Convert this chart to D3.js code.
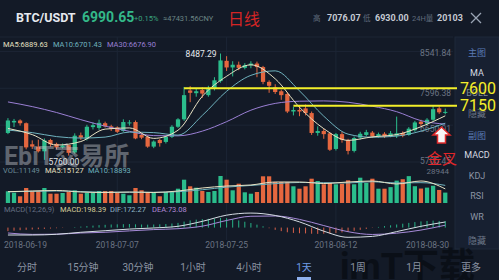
<!DOCTYPE html>
<html>
<head>
<meta charset="utf-8">
<script src="https://cdn.jsdelivr.net/npm/d3@7"></script>
<style>
html, body { margin: 0; padding: 0; background: #131a27; }
svg { display: block; font-family: Roboto, "Noto Sans CJK SC", sans-serif; }
</style>
</head>
<body>
<div id="chart"></div>
<script>
// BTC/USDT daily candles, 2018-06-19 .. 2018-08-30
var opens  = [6450,6720,6770,6700,6160,6100,5980,6270,6170,6080,
              6140,5950,6390,6300,6600,6580,6700,6620,6590,6500,
              6700,6730,6400,6350,6100,6270,6220,6350,6610,6800,
              7540,7470,7550,7420,7580,7780,8300,8130,8200,8120,
              8190,8230,8140,7760,7620,7520,7450,7000,7040,7080,
              6960,6450,6500,6440,6040,6420,6270,5990,6330,6400,
              6460,6370,6430,6370,6380,6450,6400,6520,6740,6690,
              6790,7080,6980];
var highs  = [6830,6810,6800,6720,6260,6280,6310,6300,6200,6180,
              6150,6440,6460,6660,6720,6790,6740,6660,6620,6800,
              6780,6770,6440,6390,6260,6300,6380,6650,6830,7630,
              7650,7600,7620,7660,7880,8487.29,8420,8290,8280,8240,
              8290,8280,8170,7800,7700,7560,7500,7120,7150,7180,
              7000,6620,6560,6470,6450,6480,6300,6360,6480,6530,
              6500,6460,6470,6500,6870,6490,6600,6760,6790,6830,
              7140,7130,7076.07];
var lows   = [6420,6600,6640,6030,6040,5950,5760,6100,6030,6050,
              5870,5920,6270,6260,6540,6530,6590,6500,6450,6480,
              6640,6290,6290,6070,6060,6100,6180,6320,6580,6760,
              7240,7380,7350,7380,7540,7740,8040,7900,8060,8080,
              8110,7880,7700,7480,7450,7300,6960,6900,6880,6900,
              6400,6380,6300,5990,6000,6200,5900,5950,6280,6360,
              6320,6330,6320,6340,6320,6340,6380,6480,6620,6650,
              6760,6940,6930];
var closes = [6770,6760,6700,6080,6100,5980,6260,6160,6080,6130,
              5940,6380,6330,6610,6650,6710,6620,6560,6480,6730,
              6720,6310,6330,6100,6230,6190,6350,6610,6800,7420,
              7480,7520,7460,7590,7800,8310,8130,8200,8120,8190,
              8230,8140,7760,7660,7500,7420,7000,7040,7000,6960,
              6450,6500,6420,6020,6420,6270,5990,6320,6430,6470,
              6360,6420,6360,6440,6440,6380,6560,6720,6680,6790,
              7060,6980,6990.65];
var volumes = [12540,11040,7180,16080,12860,12860,16080,9970,9970,10720,
               11790,13610,9970,11040,11040,12860,12860,12860,10720,9970,
               8250,16080,13610,11790,11790,7180,11790,11790,15330,24980,
               17900,16400,12860,11790,12860,28944,24980,13610,20690,11470,
               9970,11790,28620,28620,22510,22510,22510,17900,15330,17900,
               26050,23580,20050,21440,20050,20690,24330,20050,27120,21440,
               26050,15330,15330,17000,24000,25500,28800,17995,15500,16500,
               18500,13986,11149];

// indicator lines, read every 4th candle
var lineIdx = [0,4,8,12,16,20,24,28,32,36,40,44,48,52,56,60,64,68,72];
var ma5  = [6566,6408,6140,6230,6549,6579,6311,6520,7390,7903,8197,7839,7110,6560,6260,6350,6408,6610,6889.63];
var ma10 = [6523,6459,6357,6319,6344,6472,6459,6395,6900,7519,7928,8043,7530,6880,6420,6340,6370,6497,6701.43];
var ma30 = [7246,7126,6975,6791,6625,6492,6382,6377,6497,6740,7034,7208,7264,7272,7238,7136,6996,6766,6676.90];
var volMa5  = [12110,12860,13400,11790,11260,11790,11260,12860,16080,18220,19300,22510,22510,20900,22510,23580,20370,23580,15127];
var volMa10 = [12000,12500,12900,12300,11500,11500,11500,12100,14200,17000,18800,20800,22000,21800,21500,22800,21500,21800,18893];
var dif = [-229,-229,-207,-145,-96,-46,-12,40,192,383,448,374,176,-111,-300,-272,-124,40,172.27];
var dea = [-167,-210,-204,-167,-145,-102,-62,-34,43,219,349,358,253,62,-127,-213,-173,-77,73.08];
var macdBars = [-110,-95,-80,-70,-60,-50,-40,-30,-20,-10,
                0,15,30,45,60,75,85,95,100,105,
                110,100,95,90,95,100,110,125,145,185,
                220,245,260,270,280,300,290,260,220,180,
                140,90,40,-20,-70,-110,-145,-165,-175,-180,
                -190,-195,-190,-185,-170,-150,-130,-100,-70,-40,
                -10,20,45,70,95,120,145,170,190,205,
                215,205,198.39];

var tickIdx = [0, 18, 36, 54, 72];
var priceTicks = [8541.84, 7596.38, 6650.91, 5705.45];
var levels = [7600, 7150];
var levelStart = [29, 47];
var tabs = ["分时", "15分钟", "30分钟", "1小时", "4小时", "1天", "1周", "1月", "更多"];
var sideItems = ["主图", "MA", "BOLL", "隐藏", "副图", "MACD", "KDJ", "RSI", "WR", "隐藏"];

var width = 499, height = 280;
var upColor = "#2bbd8c", downColor = "#e5673f";

var svg = d3.select("#chart").append("svg")
  .attr("width", width)
  .attr("height", height);

svg.append("rect").attr("width", width).attr("height", height).attr("fill", "#131a27");

var start = new Date(2018, 5, 19);
var fmtDay = d3.timeFormat("%Y-%m-%d");

var x = d3.scaleBand().domain(d3.range(opens.length)).range([4, 449.2]).padding(0.3);
function cx(i) { return x(i) + x.bandwidth() / 2; }
var y = d3.scaleLinear().domain([5705.45, 8541.84]).range([162, 51.4]);
var yVol = d3.scaleLinear().domain([0, 28944]).range([203, 176]);
var yMacd = d3.scaleLinear().domain([-300, 450]).range([237.3, 213]);

// header
var head = svg.append("g");
head.append("text").attr("x", 16).attr("y", 22).attr("font-size", 12.5).attr("font-weight", "bold")
  .attr("fill", "#e6e9ef").text("BTC/USDT");
head.append("text").attr("x", 82).attr("y", 22).attr("font-size", 14).attr("font-weight", "bold")
  .attr("fill", "#33b889").text(d3.format(".2f")(closes[closes.length - 1]));
head.append("text").attr("x", 134).attr("y", 21).attr("font-size", 7.5).attr("fill", "#3aa57e").text("+0.15%");
head.append("text").attr("x", 163).attr("y", 21).attr("font-size", 7.5).attr("fill", "#6b8585").text("≈47431.56CNY");
head.append("text").attr("x", 228).attr("y", 25).attr("font-size", 16).attr("fill", "#d42525").text("日线");
var stats = [["高", 313, "7076.07", 327], ["低", 363, "6930.00", 375], ["24H量", 412, "20103", 437]];
stats.forEach(function (s) {
  head.append("text").attr("x", s[1]).attr("y", 21).attr("font-size", 7.5).attr("fill", "#5f6a7c").text(s[0]);
  head.append("text").attr("x", s[3]).attr("y", 21).attr("font-size", 9).attr("font-weight", "bold")
    .attr("fill", "#c4c9d2").text(s[2]);
});
head.append("path").attr("d", "M471,13L481,23M481,13L471,23").attr("stroke", "#9aa4b4").attr("stroke-width", 1.3);

// grid
var grid = svg.append("g").attr("stroke", "#1c2535").attr("stroke-width", 1);
tickIdx.slice(1, 4).forEach(function (i) {
  grid.append("line").attr("x1", cx(i)).attr("x2", cx(i)).attr("y1", 37).attr("y2", 240);
});
priceTicks.forEach(function (p) {
  grid.append("line").attr("x1", 0).attr("x2", 453).attr("y1", y(p)).attr("y2", y(p));
});
grid.append("line").attr("x1", 0).attr("x2", 453).attr("y1", 37).attr("y2", 37);

// price axis labels
var labelShift = [4.6, 7.5, 6.5, 2];
priceTicks.forEach(function (p, k) {
  svg.append("text").attr("x", 451).attr("y", y(p) + labelShift[k]).attr("text-anchor", "end")
    .attr("font-size", 8.5).attr("fill", "#6b7483").text(d3.format(".2f")(p));
});

// candles
var candles = svg.append("g").selectAll("g").data(d3.range(opens.length)).enter().append("g");
candles.append("line")
  .attr("x1", cx).attr("x2", cx)
  .attr("y1", function (i) { return y(highs[i]); })
  .attr("y2", function (i) { return y(lows[i]); })
  .attr("stroke", function (i) { return closes[i] >= opens[i] ? upColor : downColor; })
  .attr("stroke-width", 1);
candles.append("rect")
  .attr("x", function (i) { return x(i); })
  .attr("width", x.bandwidth())
  .attr("y", function (i) { return y(Math.max(opens[i], closes[i])); })
  .attr("height", function (i) { return Math.max(1, Math.abs(y(opens[i]) - y(closes[i]))); })
  .attr("fill", function (i) { return closes[i] >= opens[i] ? upColor : downColor; });

// moving averages
function curve(vals, scale) {
  return d3.line()
    .x(function (d, k) { return cx(lineIdx[k]); })
    .y(function (d) { return scale(d); })
    .curve(d3.curveMonotoneX)(vals);
}
[[ma30, "#9a7fd4"], [ma10, "#6fb2be"], [ma5, "#e9e3c4"]].forEach(function (m) {
  svg.append("path").attr("d", curve(m[0], y)).attr("fill", "none").attr("stroke", m[1]).attr("stroke-width", 1);
});

// max / min labels
var maxI = d3.maxIndex(highs), minI = d3.minIndex(lows);
svg.append("text").attr("x", cx(maxI) - 4).attr("y", y(highs[maxI]) + 3).attr("text-anchor", "end")
  .attr("font-size", 8.5).attr("fill", "#e4e7ec").text(d3.format(".2f")(highs[maxI]));
svg.append("text").attr("x", cx(minI) + 4).attr("y", y(lows[minI]) + 5)
  .attr("font-size", 8.5).attr("fill", "#e4e7ec").text(d3.format(".2f")(lows[minI]));

// legends
function legend(yPos, items) {
  var g = svg.append("text").attr("y", yPos).attr("font-size", 7.5);
  items.forEach(function (it) {
    g.append("tspan").attr("x", it[0]).attr("fill", it[2]).text(it[1]);
  });
}
legend(47, [[3, "MA5:" + d3.format(".2f")(ma5[ma5.length - 1]), "#e6e0c2"],
            [53, "MA10:" + d3.format(".2f")(ma10[ma10.length - 1]), "#6fb2be"],
            [107, "MA30:" + d3.format(".2f")(ma30[ma30.length - 1]), "#9a7fd4"]]);
legend(173, [[3, "VOL:" + volumes[volumes.length - 1], "#6a8c98"],
             [45, "MA5:" + volMa5[volMa5.length - 1], "#e6e0c2"],
             [88, "MA10:" + volMa10[volMa10.length - 1], "#6fb2be"]]);
legend(212, [[4, "MACD(12,26,9)", "#657084"],
             [60, "MACD:" + d3.format(".2f")(macdBars[macdBars.length - 1]), "#d9cf9a"],
             [110, "DIF:" + d3.format(".2f")(dif[dif.length - 1]), "#8fb5c7"],
             [152, "DEA:" + d3.format(".2f")(dea[dea.length - 1]), "#b189d6"]]);

// volume
svg.append("g").selectAll("rect").data(d3.range(volumes.length)).enter().append("rect")
  .attr("x", function (i) { return x(i); })
  .attr("width", x.bandwidth())
  .attr("y", function (i) { return yVol(volumes[i]); })
  .attr("height", function (i) { return yVol(0) - yVol(volumes[i]); })
  .attr("fill", function (i) { return closes[i] >= opens[i] ? upColor : downColor; });
svg.append("path").attr("d", curve(volMa10, yVol)).attr("fill", "none").attr("stroke", "#6fb2be").attr("stroke-width", 1);
svg.append("path").attr("d", curve(volMa5, yVol)).attr("fill", "none").attr("stroke", "#e9e3c4").attr("stroke-width", 1);
svg.append("text").attr("x", 449).attr("y", 174).attr("text-anchor", "end").attr("font-size", 8)
  .attr("fill", "#6b7483").text(d3.max(volumes));

// MACD
svg.append("g").selectAll("line").data(d3.range(macdBars.length)).enter().append("line")
  .attr("x1", cx).attr("x2", cx)
  .attr("y1", yMacd(0))
  .attr("y2", function (i) { return yMacd(macdBars[i]); })
  .attr("stroke", function (i) { return macdBars[i] >= 0 ? "#27b287" : "#d8604a"; })
  .attr("stroke-width", 1);
svg.append("path").attr("d", curve(dea, yMacd)).attr("fill", "none").attr("stroke", "#a68ad8").attr("stroke-width", 1);
svg.append("path").attr("d", curve(dif, yMacd)).attr("fill", "none").attr("stroke", "#d5dde4").attr("stroke-width", 1);

// date axis
tickIdx.forEach(function (i, k) {
  var anchor = k === 0 ? "start" : (k === tickIdx.length - 1 ? "end" : "middle");
  var xp = k === 0 ? 4 : (k === tickIdx.length - 1 ? 449 : cx(i));
  svg.append("text").attr("x", xp).attr("y", 248).attr("text-anchor", anchor)
    .attr("font-size", 8.5).attr("fill", "#6b7483").text(fmtDay(d3.timeDay.offset(start, i)));
});

// exchange watermark
svg.append("text").attr("x", 4).attr("y", 165).attr("font-size", 25).attr("font-weight", "bold")
  .attr("fill", "#c9ccd2").attr("opacity", 0.42).text("EbiT交易所");

// side panel
svg.append("rect").attr("x", 455).attr("y", 37).attr("width", 44).attr("height", 212)
  .attr("fill", "#172031").attr("stroke", "#1f293a");
var sideY = [55.5, 76, 96, 116.5, 138.5, 158, 179, 199, 220, 243.5];
var sideFill = ["#5a7bb5", "#d6dae2", "#7c8697", "#6e788a", "#5a7bb5", "#d6dae2", "#8b94a4", "#8b94a4", "#8b94a4", "#6e788a"];
sideItems.forEach(function (t, k) {
  svg.append("text").attr("x", 477).attr("y", sideY[k]).attr("text-anchor", "middle")
    .attr("font-size", 9).attr("fill", sideFill[k]).text(t);
});

// hand drawn levels
levels.forEach(function (lv, k) {
  svg.append("line").attr("x1", cx(levelStart[k])).attr("x2", 457)
    .attr("y1", y(lv)).attr("y2", y(lv)).attr("stroke", "#f3ef2a").attr("stroke-width", 2);
  svg.append("text").attr("x", 478).attr("y", y(lv) + 5.5).attr("text-anchor", "middle")
    .attr("font-size", 16).attr("fill", "#f4ef30").attr("stroke", "#2a2a10").attr("stroke-width", 0.6)
    .attr("paint-order", "stroke").text(lv);
});

// golden cross note
svg.append("path").attr("d", "M441.5,127L450,135L445.5,135L445.5,143L437.5,143L437.5,135L433,135Z")
  .attr("fill", "#f6f6f6").attr("stroke", "#e02a2a").attr("stroke-width", 1.5);
svg.append("text").attr("x", 427).attr("y", 164).attr("font-size", 15).attr("fill", "#e0262a").text("金叉");

// bottom tabs
svg.append("text").attr("x", 340).attr("y", 279).attr("font-size", 36).attr("font-weight", "bold")
  .attr("fill", "#05080d").attr("opacity", 0.6).text("imT下载");
var tabX = [27, 83, 138, 193, 249, 304, 358, 414, 471];
tabs.forEach(function (t, k) {
  svg.append("text").attr("x", tabX[k]).attr("y", 271).attr("text-anchor", "middle")
    .attr("font-size", 10).attr("fill", t === "1天" ? "#6f9be6" : "#8a93a2").text(t);
});
svg.append("rect").attr("x", 297).attr("y", 277).attr("width", 14).attr("height", 3).attr("fill", "#8fb0ee");
</script>
</body>
</html>
